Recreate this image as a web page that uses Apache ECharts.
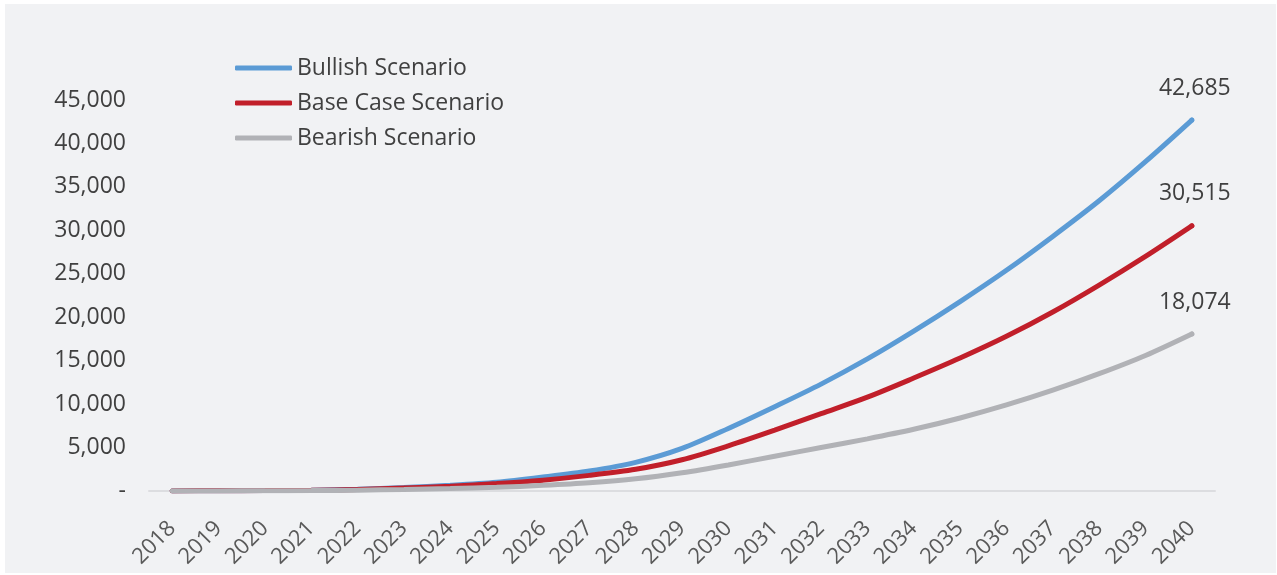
<!DOCTYPE html>
<html>
<head>
<meta charset="utf-8">
<script src="https://cdn.jsdelivr.net/npm/echarts@6/dist/echarts.min.js"></script>
<style>
html,body{margin:0;padding:0;background:#ffffff;width:1277px;height:575px;overflow:hidden;}
#chart{position:absolute;left:5px;top:4px;width:1271px;height:569px;}
</style>
</head>
<body>
<div id="chart"></div>
<script>
const years = ['2018','2019','2020','2021','2022','2023','2024','2025','2026','2027','2028','2029','2030','2031','2032','2033','2034','2035','2036','2037','2038','2039','2040'];
const bullish = [10,25,50,100,200,400,650,1000,1600,2300,3300,4900,7200,9700,12300,15200,18400,21800,25400,29300,33400,37900,42685];
const baseCase = [10,22,45,90,180,350,550,850,1250,1800,2500,3600,5200,7000,8900,10800,13000,15300,17800,20600,23700,27000,30515];
const bearish = [5,12,25,50,100,180,280,420,650,950,1400,2100,3000,4000,5000,6000,7100,8400,9900,11600,13500,15600,18074];
const seriesNames = ['Bullish Scenario','Base Case Scenario','Bearish Scenario'];
const colors = ['#5b9bd5','#c11f2a','#b1b2b6'];
const yTicks = [0,5000,10000,15000,20000,25000,30000,35000,40000,45000];

const fmt = v => v === 0 ? '-' : v.toLocaleString('en-US');
const font = '"Open Sans", "Noto Sans", sans-serif';

function withEndLabel(arr){
  return arr.map((v,i) => i === arr.length-1
    ? {value:v, symbol:'circle', symbolSize:5,
       label:{show:true, position:'top', distance:18, offset:[3,0], formatter: p => fmt(p.value), color:'#404040', fontSize:23, fontFamily:font}}
    : v);
}

const chart = echarts.init(document.getElementById('chart'), null, {renderer:'canvas'});
chart.setOption({
  backgroundColor:'#f1f2f4',
  animation:false,
  color: colors,
  legend:{
    orient:'vertical',
    left:225, top:46,
    icon:'roundRect',
    itemWidth:57, itemHeight:5,
    itemGap:9,
    textStyle:{color:'#404040', fontSize:23, fontFamily:font, lineHeight:26},
    data: seriesNames
  },
  grid:{left:144, right:61, top:96, bottom:82, containLabel:false},
  xAxis:{
    type:'category',
    data: years,
    boundaryGap:true,
    axisLine:{show:true, lineStyle:{color:'#dcdde0', width:2}},
    axisTick:{show:false},
    axisLabel:{rotate:45, color:'#595959', fontSize:22, fontFamily:font, margin:34, interval:0},
    splitLine:{show:false}
  },
  yAxis:{
    type:'value',
    min:0, max:45000, interval:5000,
    axisLine:{show:false},
    axisTick:{show:false},
    splitLine:{show:false},
    axisLabel:{color:'#404040', fontSize:23, fontFamily:font, margin:23, formatter: v => fmt(v)}
  },
  series:[
    {name:seriesNames[0], type:'line', data:withEndLabel(bullish), smooth:0.3, symbol:'none', itemStyle:{color:colors[0]}, lineStyle:{width:5, color:colors[0], cap:'round'}, z:3},
    {name:seriesNames[1], type:'line', data:withEndLabel(baseCase), smooth:0.3, symbol:'none', itemStyle:{color:colors[1]}, lineStyle:{width:5, color:colors[1], cap:'round'}, z:4},
    {name:seriesNames[2], type:'line', data:withEndLabel(bearish), smooth:0.3, symbol:'none', itemStyle:{color:colors[2]}, lineStyle:{width:5, color:colors[2], cap:'round'}, z:5}
  ]
});
</script>
</body>
</html>
